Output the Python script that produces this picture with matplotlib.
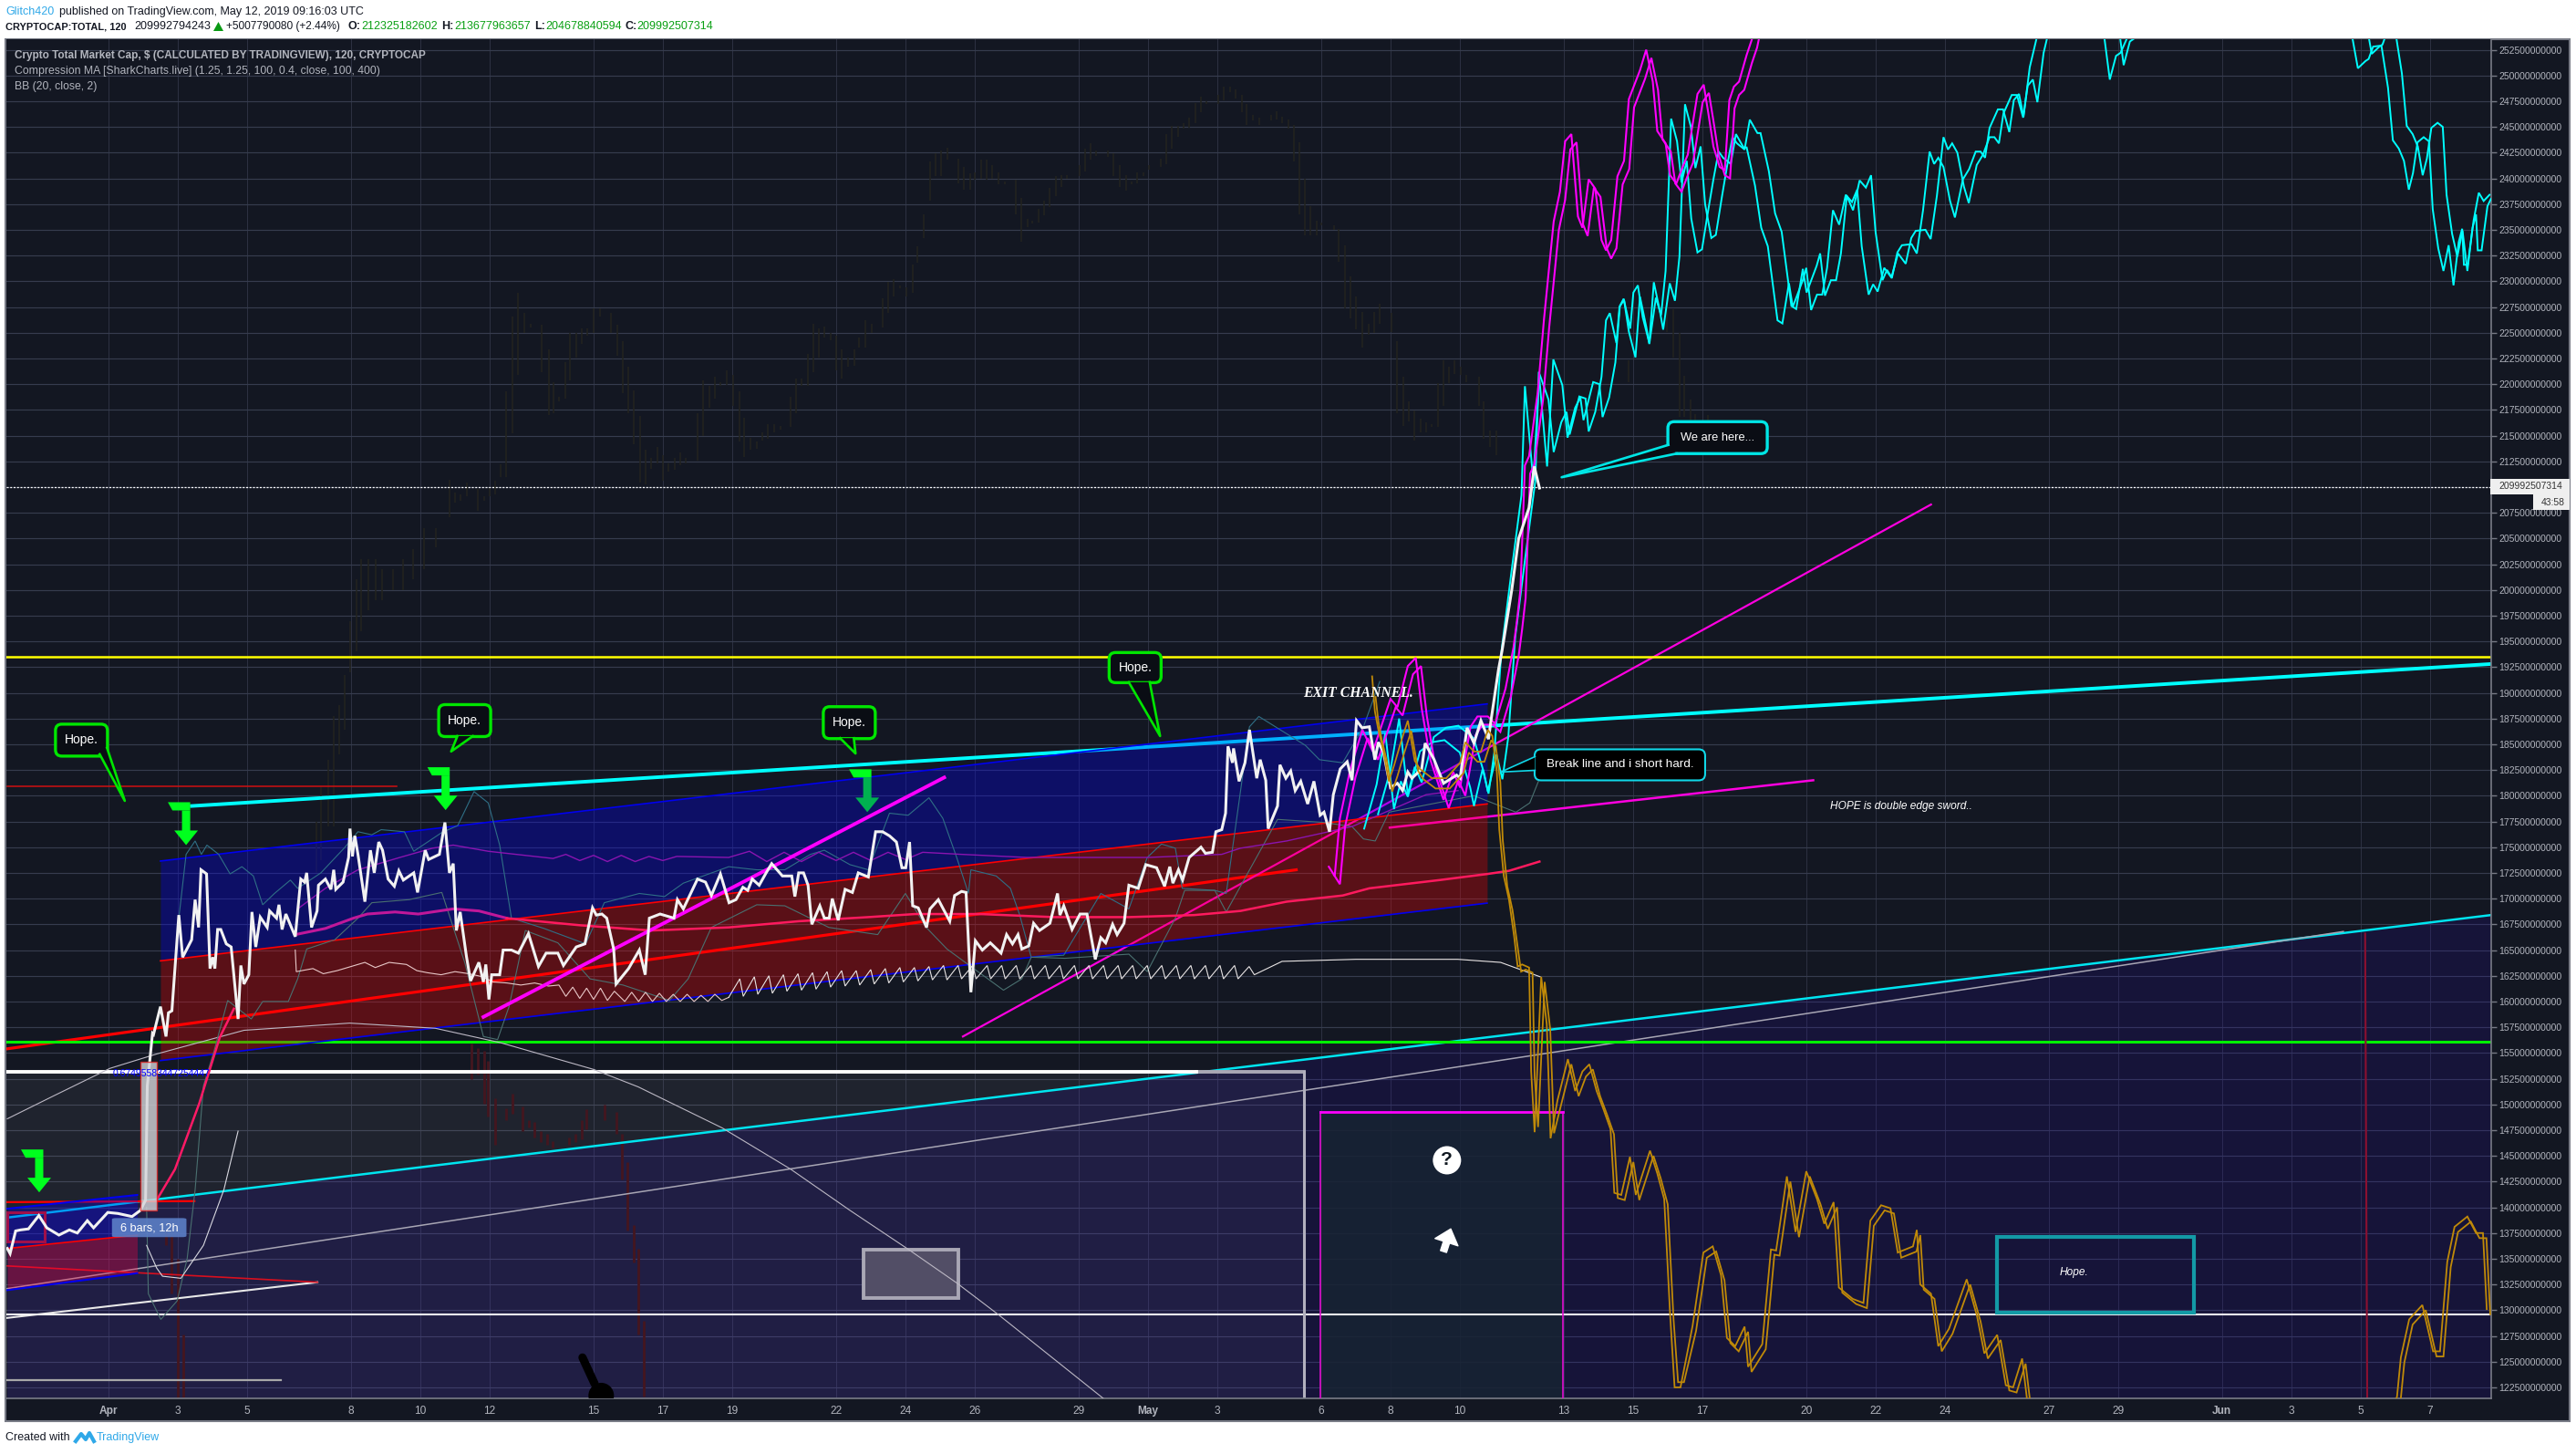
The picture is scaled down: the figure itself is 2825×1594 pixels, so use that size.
"""
plot.py
-------
TradingView style chart of the crypto total market cap with drawings on top.
Days count from 1 April 2019, prices are in billions of dollars.
"""

import numpy as np
import matplotlib
matplotlib.use("Agg")
import matplotlib.pyplot as plt
from matplotlib.patches import FancyBboxPatch, Polygon, Rectangle, Circle
from matplotlib.transforms import IdentityTransform

# ── series (day, price) ──────────────────────────────────────────────────────

white_close = [
    (-2.92, 136.0), (-2.84, 135.5), (-2.68, 137.7), (-2.54, 137.8), (-2.31, 137.9), (-2.01, 139.2), (-1.78, 138.0),
    (-1.43, 137.3), (-1.13, 137.8), (-0.90, 137.5), (-0.61, 138.7), (-0.43, 138.0), (-0.02, 139.5), (0.27, 139.4),
    (0.68, 139.1), (0.92, 139.7), (1.07, 140.7), (1.12, 151.8), (1.27, 156.9), (1.30, 156.8), (1.50, 159.5),
    (1.66, 156.6), (1.73, 158.9), (1.83, 159.1), (2.03, 168.4), (2.14, 164.3), (2.40, 166.0), (2.50, 169.9),
    (2.60, 167.2), (2.67, 172.8), (2.83, 172.4), (2.93, 163.2), (3.01, 164.3), (3.07, 163.2), (3.15, 167.0),
    (3.24, 167.0), (3.40, 165.6), (3.54, 165.3), (3.74, 158.3), (3.82, 163.5), (3.91, 161.7), (4.05, 162.6),
    (4.14, 168.7), (4.25, 165.3), (4.38, 168.2), (4.58, 167.2), (4.65, 168.8), (4.85, 168.1), (4.92, 169.4),
    (5.01, 167.0), (5.12, 168.5), (5.39, 166.3), (5.55, 171.9), (5.66, 171.6), (5.72, 172.5), (5.86, 167.2),
    (6.02, 168.8), (6.06, 171.3), (6.26, 171.9), (6.42, 170.9), (6.50, 172.8), (6.56, 170.9), (6.77, 171.6),
    (6.93, 174.0), (6.97, 176.8), (7.04, 174.1), (7.11, 176.1), (7.20, 174.3), (7.40, 169.7), (7.56, 174.7),
    (7.67, 172.5), (7.80, 175.5), (7.91, 174.7), (8.07, 171.9), (8.25, 171.2), (8.38, 172.7), (8.51, 171.8),
    (8.81, 172.5), (8.92, 170.6), (9.14, 174.7), (9.24, 173.8), (9.55, 174.3), (9.71, 177.4), (9.84, 172.5),
    (9.95, 173.4), (10.04, 166.9), (10.15, 168.7), (10.33, 164.4), (10.45, 162.0), (10.69, 163.8), (10.82, 161.9),
    (10.89, 163.6), (10.98, 160.2), (11.06, 162.6), (11.29, 162.6), (11.39, 165.0), (11.63, 165.0), (11.83, 164.7),
    (12.12, 166.6), (12.41, 163.4), (12.63, 164.7), (12.97, 164.7), (13.13, 163.5), (13.50, 165.3), (13.75, 165.6),
    (13.97, 169.1), (14.08, 168.4), (14.24, 168.5), (14.38, 168.1), (14.58, 165.1), (14.65, 161.7), (15.01, 163.2),
    (15.32, 165.0), (15.49, 162.6), (15.61, 168.1), (15.92, 168.5), (16.32, 168.1), (16.42, 169.9), (16.59, 169.0),
    (17.00, 171.9), (17.23, 171.6), (17.40, 170.3), (17.66, 172.4), (17.91, 169.6), (18.11, 169.9), (18.31, 171.1),
    (18.45, 170.8), (18.58, 171.9), (18.78, 171.3), (18.98, 172.5), (19.14, 173.4), (19.45, 172.2), (19.72, 172.2),
    (19.81, 170.2), (19.92, 172.5), (20.06, 172.5), (20.19, 171.3), (20.30, 167.5), (20.53, 169.3), (20.66, 168.1),
    (20.80, 168.1), (20.89, 170.0), (21.06, 167.9), (21.26, 170.9), (21.47, 170.6), (21.64, 172.5), (21.93, 172.1),
    (22.14, 176.5), (22.34, 176.5), (22.54, 176.1), (22.74, 175.5), (22.90, 173.0), (23.01, 173.0), (23.12, 175.5),
    (23.21, 169.3), (23.37, 169.1), (23.61, 167.2), (23.71, 169.0), (23.95, 169.9), (24.28, 167.8), (24.42, 170.3),
    (24.62, 170.7), (24.75, 170.6), (24.89, 160.9), (25.02, 165.9), (25.22, 165.0), (25.45, 165.7), (25.76, 164.7),
    (25.92, 166.5), (26.09, 165.6), (26.25, 166.5), (26.36, 165.1), (26.56, 165.4), (26.70, 167.6), (26.87, 166.9),
    (27.17, 167.6), (27.39, 170.5), (27.46, 168.4), (27.57, 169.3), (27.81, 167.0), (28.04, 168.5), (28.24, 168.5),
    (28.48, 164.1), (28.64, 166.2), (28.78, 165.7), (28.98, 167.5), (29.11, 166.5), (29.31, 167.6), (29.45, 171.3),
    (29.72, 171.0), (29.94, 173.3), (30.25, 173.0), (30.48, 171.2), (30.63, 173.1), (30.72, 171.5), (30.88, 172.8),
    (31.00, 171.8), (31.19, 174.0), (31.53, 175.0), (31.66, 174.4), (31.86, 174.5), (31.96, 176.5), (32.13, 176.7),
    (32.24, 178.3), (32.31, 184.8), (32.44, 183.2), (32.47, 184.6), (32.63, 181.4), (32.80, 183.2), (32.93, 186.4),
    (33.14, 181.7), (33.24, 183.5), (33.40, 181.5), (33.47, 176.8), (33.74, 179.0), (33.81, 183.0), (33.98, 181.7),
    (34.12, 182.4), (34.25, 180.5), (34.41, 181.4), (34.61, 179.2), (34.79, 181.4), (34.97, 178.1), (35.08, 178.4),
    (35.24, 176.5), (35.35, 180.1), (35.55, 182.6), (35.75, 183.3), (35.89, 181.5), (36.02, 187.3), (36.18, 186.6),
    (36.39, 186.7), (36.55, 183.5), (36.65, 185.2), (36.80, 184.2), (37.00, 180.8), (37.20, 181.2), (37.35, 180.5),
    (37.50, 182.3), (37.62, 181.7), (37.90, 182.6), (38.00, 185.1), (38.26, 183.5), (38.53, 181.2), (38.91, 182.0),
    (39.01, 181.7), (39.21, 186.6), (39.41, 185.1), (39.61, 187.3), (39.83, 185.5), (39.90, 187.3), (40.12, 192.3),
    (40.22, 194.1), (40.50, 200.0), (40.70, 205.0), (41.00, 208.0), (41.15, 212.0), (41.30, 209.9),
]

cyan_near = [
    (36.24, 176.8), (36.60, 181.1), (36.85, 186.1), (37.10, 178.7), (37.30, 181.4), (37.50, 179.9), (37.85, 184.3),
    (38.20, 185.2), (38.56, 185.4), (39.00, 184.2), (39.30, 180.8), (39.41, 179.0), (39.66, 182.6), (39.83, 180.2),
    (40.00, 184.3), (40.20, 194.0), (40.50, 202.0), (40.78, 209.2), (40.88, 219.8), (41.12, 210.6), (41.30, 221.0),
    (41.56, 218.5), (41.71, 213.4), (41.93, 216.3), (42.08, 217.3), (42.17, 215.1), (42.45, 218.8), (42.63, 218.6),
    (42.72, 215.4), (42.91, 217.3), (43.09, 220.7), (43.22, 226.2), (43.33, 226.9), (43.52, 224.0), (43.61, 227.5),
    (43.74, 228.2), (43.88, 225.1), (44.07, 222.6), (44.20, 228.5), (44.38, 225.6), (44.47, 223.9), (44.66, 228.4),
    (44.81, 226.7), (44.94, 231.0), (45.10, 245.8), (45.27, 243.6), (45.40, 239.6), (45.55, 241.7), (45.68, 236.1),
    (45.86, 232.8), (45.99, 233.1), (46.17, 236.9), (46.32, 239.9), (46.47, 242.6), (46.60, 242.0), (46.82, 241.4),
    (46.97, 244.3), (47.19, 243.0), (47.28, 243.0), (47.52, 239.3), (47.70, 235.2), (47.89, 233.4), (48.17, 226.2),
    (48.31, 225.9), (48.50, 229.8), (48.61, 227.5), (48.90, 230.1), (49.00, 231.3), (49.14, 227.2), (49.31, 228.7),
    (49.46, 228.7), (49.60, 231.3), (49.77, 236.9), (49.95, 235.5), (50.14, 238.4), (50.32, 237.7), (50.47, 238.9),
    (50.60, 233.4), (50.80, 228.7), (50.93, 229.7), (51.06, 229.0), (51.25, 231.3), (51.47, 230.3), (51.63, 232.8),
    (51.76, 233.5), (52.04, 233.6), (52.19, 232.7), (52.37, 236.9), (52.56, 242.6), (52.69, 241.4), (52.81, 242.0),
    (52.96, 241.1), (53.15, 237.8), (53.29, 236.2), (53.52, 239.9), (53.70, 240.9), (53.89, 242.6), (54.03, 242.6),
    (54.16, 242.0), (54.29, 244.9), (54.53, 246.7), (54.68, 246.7), (54.86, 244.5), (54.99, 247.6), (55.14, 248.2),
    (55.27, 246.0), (55.45, 250.8), (55.64, 253.5), (56.00, 257.6), (57.10, 257.6), (57.61, 253.5), (57.76, 249.6),
    (57.94, 251.9), (58.07, 252.2), (58.40, 254.7), (58.80, 257.6), (64.40, 257.6), (64.77, 253.5), (64.92, 250.7),
    (65.14, 251.4), (65.23, 251.6), (65.36, 252.8), (65.60, 252.9), (65.79, 248.8), (65.93, 243.7), (66.10, 242.9),
    (66.25, 241.7), (66.39, 238.9), (66.51, 240.5), (66.64, 243.5), (66.82, 244.0), (66.97, 243.6), (67.08, 237.0),
    (67.24, 233.2), (67.39, 231.0), (67.54, 233.5), (67.68, 229.6), (67.83, 233.8), (67.93, 235.1), (67.98, 231.6),
    (68.09, 231.6), (68.26, 235.9), (68.41, 238.6), (68.55, 237.8), (68.72, 238.4),
]

cyan_far = [
    (36.64, 178.2), (37.00, 182.5), (37.25, 187.5), (37.50, 180.1), (37.70, 182.8), (37.90, 181.3), (38.25, 185.7),
    (38.60, 186.6), (38.96, 186.8), (39.40, 185.6), (39.70, 182.2), (39.81, 180.4), (40.06, 184.0), (40.23, 181.6),
    (40.40, 185.7), (40.60, 195.4), (40.90, 203.4), (41.18, 210.6), (41.28, 221.2), (41.52, 212.0), (41.70, 222.4),
    (41.96, 219.9), (42.11, 214.8), (42.33, 217.7), (42.48, 218.7), (42.57, 216.5), (42.85, 220.2), (43.03, 220.0),
    (43.12, 216.8), (43.31, 218.7), (43.49, 222.1), (43.62, 227.6), (43.73, 228.3), (43.92, 225.4), (44.01, 228.9),
    (44.14, 229.6), (44.28, 226.5), (44.47, 224.0), (44.60, 229.9), (44.78, 227.0), (44.87, 225.3), (45.06, 229.8),
    (45.21, 228.1), (45.34, 232.4), (45.50, 247.2), (45.67, 245.0), (45.80, 241.0), (45.95, 243.1), (46.08, 237.5),
    (46.26, 234.2), (46.39, 234.5), (46.57, 238.3), (46.72, 241.3), (46.87, 244.0), (47.00, 243.4), (47.22, 242.8),
    (47.37, 245.7), (47.59, 244.4), (47.68, 244.4), (47.92, 240.7), (48.10, 236.6), (48.29, 234.8), (48.57, 227.6),
    (48.71, 227.3), (48.90, 231.2), (49.01, 228.9), (49.30, 231.5), (49.40, 232.7), (49.54, 228.6), (49.71, 230.1),
    (49.86, 230.1), (50.00, 232.7), (50.17, 238.3), (50.35, 236.9), (50.54, 239.8), (50.72, 239.1), (50.87, 240.3),
    (51.00, 234.8), (51.20, 230.1), (51.33, 231.1), (51.46, 230.4), (51.65, 232.7), (51.87, 231.7), (52.03, 234.2),
    (52.16, 234.9), (52.44, 235.0), (52.59, 234.1), (52.77, 238.3), (52.96, 244.0), (53.09, 242.8), (53.21, 243.4),
    (53.36, 242.5), (53.55, 239.2), (53.69, 237.6), (53.92, 241.3), (54.10, 242.3), (54.29, 244.0), (54.43, 244.0),
    (54.56, 243.4), (54.69, 246.3), (54.93, 248.1), (55.08, 248.1), (55.26, 245.9), (55.39, 249.0), (55.54, 249.6),
    (55.67, 247.4), (55.85, 252.2), (56.04, 254.9), (56.40, 259.0), (57.50, 259.0), (58.01, 254.9), (58.16, 251.0),
    (58.34, 253.3), (58.47, 253.6), (58.80, 256.1), (59.20, 259.0), (64.80, 259.0), (65.17, 254.9), (65.32, 252.1),
    (65.54, 252.8), (65.63, 253.0), (65.76, 254.2), (66.00, 254.3), (66.19, 250.2), (66.33, 245.1), (66.50, 244.3),
    (66.65, 243.1), (66.79, 240.3), (66.91, 241.9), (67.04, 244.9), (67.22, 245.4), (67.37, 245.0), (67.48, 238.4),
    (67.64, 234.6), (67.79, 232.4), (67.94, 234.9), (68.08, 231.0), (68.23, 235.2), (68.33, 236.5), (68.38, 233.0),
    (68.49, 233.0), (68.66, 237.3), (68.76, 238.0),
]

magenta_near = [
    (35.22, 173.1), (35.39, 172.2), (35.54, 177.8), (35.84, 182.6), (36.19, 186.4), (36.49, 184.3), (36.70, 186.4),
    (37.00, 189.4), (37.20, 188.6), (37.50, 192.6), (37.73, 193.4), (37.90, 188.5), (38.15, 183.5), (38.53, 179.6),
    (38.81, 182.3), (39.01, 180.8), (39.31, 186.7), (39.51, 187.7), (39.81, 187.7), (40.02, 187.0), (40.32, 190.4),
    (40.55, 194.4), (40.65, 197.0), (40.75, 200.0), (40.88, 212.1), (41.00, 213.0), (41.25, 219.2), (41.43, 226.3),
    (41.71, 235.8), (41.89, 238.7), (42.04, 243.6), (42.22, 244.3), (42.41, 236.3), (42.54, 235.2), (42.72, 239.9),
    (42.91, 239.0), (43.09, 234.0), (43.22, 233.0), (43.37, 234.0), (43.55, 240.2), (43.74, 241.7), (43.88, 247.7),
    (44.20, 250.5), (44.38, 252.5), (44.57, 249.4), (44.70, 244.6), (44.94, 243.4), (45.07, 240.3), (45.25, 239.5),
    (45.43, 241.1), (45.58, 242.3), (45.86, 248.2), (46.04, 249.1), (46.17, 246.4), (46.32, 243.1), (46.50, 241.1),
    (46.65, 240.8), (46.78, 247.6), (46.91, 248.9), (47.06, 249.4), (47.28, 252.0), (47.43, 253.5), (47.61, 256.4),
]

magenta_far = [
    (35.37, 172.3), (35.54, 171.4), (35.69, 177.0), (35.99, 181.8), (36.34, 185.6), (36.64, 183.5), (36.85, 185.6),
    (37.15, 188.6), (37.35, 187.8), (37.65, 191.8), (37.88, 192.6), (38.05, 187.7), (38.30, 182.7), (38.68, 178.8),
    (38.96, 181.5), (39.16, 180.0), (39.46, 185.9), (39.66, 186.9), (39.96, 186.9), (40.17, 186.2), (40.47, 189.6),
    (40.70, 193.6), (40.80, 196.2), (40.90, 199.2), (41.03, 211.3), (41.15, 212.2), (41.40, 218.4), (41.58, 225.5),
    (41.86, 235.0), (42.04, 237.9), (42.19, 242.8), (42.37, 243.5), (42.56, 235.5), (42.69, 234.4), (42.87, 239.1),
    (43.06, 238.2), (43.24, 233.2), (43.37, 232.2), (43.52, 233.2), (43.70, 239.4), (43.89, 240.9), (44.03, 246.9),
    (44.35, 249.7), (44.53, 251.7), (44.72, 248.6), (44.85, 243.8), (45.09, 242.6), (45.22, 239.5), (45.40, 238.7),
    (45.58, 240.3), (45.73, 241.5), (46.01, 247.4), (46.19, 248.3), (46.32, 245.6), (46.47, 242.3), (46.65, 240.3),
    (46.80, 240.0), (46.93, 246.8), (47.06, 248.1), (47.21, 248.6), (47.43, 251.2), (47.58, 252.7), (47.76, 255.6),
]

gold_near = [
    (36.47, 191.6), (36.55, 188.2), (36.65, 186.4), (36.80, 184.3), (36.95, 181.4), (37.10, 182.9), (37.30, 185.2),
    (37.50, 187.3), (37.70, 183.4), (37.85, 182.6), (38.20, 181.7), (38.61, 181.7), (39.01, 183.2), (39.16, 185.2),
    (39.41, 184.3), (39.61, 184.3), (39.81, 186.4), (39.94, 185.8), (40.07, 182.3), (40.14, 176.7), (40.27, 172.2),
    (40.42, 169.9), (40.57, 166.3), (40.67, 163.4), (40.80, 163.6), (41.00, 163.3), (41.06, 153.2), (41.16, 147.3),
    (41.35, 162.4), (41.51, 157.8), (41.62, 146.7), (41.82, 150.4), (42.12, 154.4), (42.33, 151.3), (42.54, 153.2),
    (42.74, 153.9), (42.95, 151.3), (43.15, 149.5), (43.35, 147.6), (43.46, 141.4), (43.66, 141.2), (43.91, 144.9),
    (44.08, 141.2), (44.49, 145.5), (44.70, 143.3), (44.90, 140.8), (45.07, 129.6), (45.20, 122.5), (45.37, 122.5),
    (45.72, 128.5), (46.03, 135.6), (46.30, 136.2), (46.54, 133.4), (46.71, 127.3), (46.95, 126.5), (47.22, 128.4),
    (47.32, 124.5), (47.73, 126.7), (47.98, 135.9), (48.13, 135.8), (48.44, 143.0), (48.69, 137.6), (49.00, 143.5),
    (49.31, 140.8), (49.52, 138.4), (49.79, 140.5), (49.94, 132.2), (50.34, 131.1), (50.65, 130.7), (50.85, 138.7),
    (51.16, 140.2), (51.43, 139.9), (51.64, 135.6), (52.08, 136.2), (52.19, 137.8), (52.29, 132.5), (52.60, 131.6),
    (52.81, 126.5), (53.12, 128.2), (53.63, 133.0), (53.93, 129.4), (54.14, 125.8), (54.51, 127.6), (54.76, 122.7),
    (54.97, 122.5), (55.23, 125.3), (55.38, 121.1), (55.79, 118.0), (65.65, 118.0), (66.05, 121.6), (66.16, 125.4),
    (66.40, 129.1), (66.78, 130.5), (67.09, 126.0), (67.29, 126.0), (67.50, 134.7), (67.71, 138.1), (68.08, 139.1),
    (68.33, 137.5), (68.53, 137.5), (68.64, 130.1),
]

gold_far = [
    (36.57, 189.6), (36.65, 187.2), (36.75, 185.4), (36.90, 183.3), (37.05, 180.4), (37.20, 181.9), (37.40, 184.2),
    (37.60, 186.3), (37.80, 182.4), (37.95, 181.6), (38.30, 180.7), (38.71, 180.7), (39.11, 182.2), (39.26, 184.2),
    (39.51, 183.3), (39.71, 183.3), (39.91, 185.4), (40.04, 184.8), (40.17, 181.3), (40.24, 175.7), (40.37, 171.2),
    (40.52, 168.9), (40.67, 165.3), (40.77, 162.9), (40.90, 163.1), (41.10, 162.8), (41.16, 152.7), (41.26, 147.8),
    (41.45, 161.9), (41.61, 157.3), (41.72, 147.2), (41.92, 149.9), (42.22, 153.9), (42.43, 150.8), (42.64, 152.7),
    (42.84, 153.4), (43.05, 150.8), (43.25, 149.0), (43.45, 147.1), (43.56, 140.9), (43.76, 140.7), (44.01, 144.4),
    (44.18, 140.7), (44.59, 145.0), (44.80, 142.8), (45.00, 140.3), (45.17, 129.1), (45.30, 123.0), (45.47, 123.0),
    (45.82, 128.0), (46.13, 135.1), (46.40, 135.7), (46.64, 132.9), (46.81, 126.8), (47.05, 126.0), (47.32, 127.9),
    (47.42, 124.0), (47.83, 126.2), (48.08, 135.4), (48.23, 135.3), (48.54, 142.5), (48.79, 137.1), (49.10, 143.0),
    (49.41, 140.3), (49.62, 137.9), (49.89, 140.0), (50.04, 131.7), (50.44, 130.6), (50.75, 130.2), (50.95, 138.2),
    (51.26, 139.7), (51.53, 139.4), (51.74, 135.1), (52.18, 135.7), (52.29, 137.3), (52.39, 132.0), (52.70, 131.1),
    (52.91, 126.0), (53.22, 127.7), (53.73, 132.5), (54.03, 128.9), (54.24, 125.3), (54.61, 127.1), (54.86, 122.2),
    (55.07, 122.0), (55.33, 124.8), (55.48, 120.6), (55.89, 117.5), (65.75, 117.5), (66.15, 121.1), (66.26, 124.9),
    (66.50, 128.6), (66.88, 130.0), (67.19, 125.5), (67.39, 125.5), (67.60, 134.2), (67.81, 137.6), (68.18, 138.6),
    (68.43, 137.0), (68.63, 137.0), (68.74, 129.6),
]

bb_upper = [
    (2.03, 168.1), (2.24, 174.3), (2.50, 175.6), (2.68, 174.3), (2.84, 175.2), (3.18, 174.3), (3.51, 172.4),
    (3.85, 173.1), (4.18, 172.2), (4.45, 169.4), (4.79, 170.5), (5.25, 171.8), (5.46, 171.0), (6.13, 172.5),
    (6.80, 174.9), (7.20, 176.5), (7.60, 176.2), (7.87, 176.7), (8.54, 176.5), (8.81, 174.6), (9.61, 176.4),
    (10.08, 177.1), (10.55, 180.4), (10.96, 179.3), (11.29, 175.2), (11.63, 168.1), (12.57, 167.1), (13.77, 165.6),
    (14.31, 169.6), (15.32, 170.5), (16.05, 170.2), (16.59, 171.5), (17.90, 173.1), (18.71, 172.8), (19.52, 172.8),
    (20.26, 174.3), (20.66, 174.7), (21.40, 173.3), (21.93, 172.8), (22.54, 178.3), (23.08, 178.1), (23.68, 179.8),
    (24.08, 177.8), (24.48, 174.0), (24.82, 170.5), (24.89, 172.8), (25.62, 172.2), (26.03, 171.0), (26.30, 168.4),
    (26.63, 164.3), (27.57, 164.5), (28.64, 170.5), (29.45, 169.0), (29.98, 174.0), (30.39, 175.3), (30.79, 174.9),
    (30.99, 171.0), (31.93, 170.8), (32.26, 170.5), (32.93, 186.7), (33.20, 187.7), (33.87, 186.3), (34.54, 184.9),
    (34.95, 183.5), (35.62, 183.2), (36.22, 186.7), (36.69, 191.1),
]

bb_lower = [
    (1.10, 140.0), (1.15, 131.6), (1.51, 129.1), (1.98, 130.9), (2.27, 135.0), (2.50, 141.7), (2.74, 151.8),
    (3.04, 155.1), (3.44, 160.1), (4.12, 158.3), (4.45, 160.0), (5.19, 160.0), (5.46, 162.2), (5.72, 165.1),
    (6.53, 166.0), (7.20, 168.1), (7.60, 169.6), (8.68, 169.9), (9.62, 170.6), (10.29, 163.7), (10.82, 156.6),
    (11.23, 156.3), (11.56, 159.5), (12.03, 166.9), (12.97, 165.7), (13.90, 162.2), (14.85, 161.6), (16.19, 160.1),
    (16.73, 162.2), (17.40, 167.2), (18.71, 169.4), (19.52, 169.3), (20.79, 167.2), (22.20, 166.5), (23.00, 170.5),
    (23.60, 167.2), (24.20, 165.1), (24.89, 163.4), (25.83, 161.1), (26.36, 162.2), (26.63, 164.3), (27.60, 164.2),
    (29.45, 164.6), (29.98, 162.9), (30.79, 168.1), (31.06, 170.8), (31.93, 170.8), (32.26, 168.7), (33.74, 177.7),
    (35.08, 177.4), (35.89, 177.0), (36.22, 175.8), (36.56, 175.6), (36.96, 178.4), (39.41, 180.0), (40.62, 178.4),
    (41.02, 179.3), (41.27, 181.4),
]

ma_rising = [(1.39, 140.7), (1.92, 143.7), (2.62, 150.1), (3.21, 156.5), (3.62, 159.3)]

ma_slow_a = [
    (5.39, 166.5), (6.26, 167.1), (7.07, 168.1), (7.47, 168.5), (8.27, 168.7), (8.94, 168.5), (9.95, 169.0),
    (10.69, 168.8), (11.49, 168.1),
]
ma_slow_b = [
    (11.49, 168.1), (12.70, 167.7), (13.64, 167.4), (14.85, 167.1), (15.65, 166.9), (17.90, 167.2), (19.92, 167.8),
    (21.93, 168.2), (23.28, 168.5), (25.15, 168.5), (27.30, 168.2), (29.45, 168.2), (31.33, 168.4), (32.67, 168.8),
    (34.00, 169.7), (35.62, 170.3), (36.39, 171.0), (38.41, 171.8), (39.81, 172.4), (40.42, 172.7), (41.30, 173.6),
]
ma_purple = [
    (5.46, 169.0), (6.26, 171.0), (7.20, 172.8), (8.41, 174.0), (9.35, 174.9), (9.95, 175.2), (10.96, 174.6),
    (12.83, 173.9), (13.20, 174.3), (13.60, 173.7), (14.00, 174.2), (14.40, 173.6), (14.80, 174.2), (15.20, 173.6),
    (15.60, 174.1), (16.00, 173.7), (16.40, 174.1), (17.90, 174.0), (18.50, 174.6), (19.00, 173.6), (19.50, 174.5),
    (20.00, 173.6), (20.50, 174.5), (21.00, 173.7), (21.50, 174.5), (22.00, 173.7), (22.50, 174.5), (23.00, 173.8),
    (23.50, 174.5), (24.62, 174.3), (26.50, 174.0), (30.00, 174.0), (32.13, 174.3), (32.67, 174.9), (34.00, 175.6),
    (35.89, 177.0), (38.03, 180.1), (38.95, 180.5),
]

zigzag_left = [
    (5.39, 165.0), (5.42, 162.9), (5.90, 163.2), (6.20, 162.7), (6.60, 163.0), (7.00, 163.4), (7.40, 163.8),
    (7.70, 163.3), (8.10, 163.8), (8.60, 163.6), (8.90, 163.0), (9.20, 162.8), (9.60, 162.6), (10.00, 162.9),
    (10.40, 162.7), (10.80, 162.4), (11.10, 161.9), (11.50, 161.8), (11.90, 161.6), (12.30, 161.8), (12.70, 161.5),
    (13.00, 161.6), (13.20, 160.5), (13.40, 161.4), (13.60, 160.3), (13.80, 161.3), (14.00, 160.2), (14.20, 161.3),
    (14.40, 160.1), (14.60, 161.0), (14.90, 160.0), (15.10, 160.9), (15.30, 160.0), (15.50, 160.9), (15.70, 160.0),
    (15.90, 160.8), (16.10, 160.0), (16.30, 160.7), (16.50, 160.0), (16.70, 160.7), (16.90, 160.0), (17.10, 160.6),
    (17.30, 160.0), (17.50, 160.7), (17.70, 160.1), (17.90, 160.4),
]
zigzag_right = [
    (17.90, 160.4), (18.22, 162.2), (18.32, 160.5), (18.64, 162.4), (18.74, 160.7), (19.06, 162.5), (19.16, 160.8),
    (19.48, 162.6), (19.58, 161.0), (19.90, 162.7), (20.00, 161.1), (20.32, 162.8), (20.42, 161.2), (20.74, 162.9),
    (20.84, 161.4), (21.16, 163.0), (21.26, 161.5), (21.58, 163.0), (21.68, 161.6), (22.00, 163.1), (22.10, 161.7),
    (22.42, 163.2), (22.52, 161.8), (22.84, 163.3), (22.94, 161.9), (23.26, 163.3), (23.36, 162.0), (23.68, 163.4),
    (23.78, 162.1), (24.10, 163.5), (24.20, 162.1), (24.52, 163.5), (24.62, 162.2), (24.94, 163.5), (25.04, 162.2),
    (25.36, 163.5), (25.46, 162.2), (25.78, 163.5), (25.88, 162.2), (26.20, 163.5), (26.30, 162.2), (26.62, 163.5),
    (26.72, 162.2), (27.04, 163.5), (27.14, 162.2), (27.46, 163.5), (27.56, 162.2), (27.88, 163.5), (27.98, 162.2),
    (28.30, 163.5), (28.40, 162.2), (28.72, 163.5), (28.82, 162.2), (29.14, 163.5), (29.24, 162.2), (29.56, 163.5),
    (29.66, 162.2), (29.98, 163.5), (30.08, 162.2), (30.40, 163.5), (30.50, 162.2), (30.82, 163.5), (30.92, 162.2),
    (31.24, 163.5), (31.34, 162.2), (31.66, 163.5), (31.76, 162.2), (32.08, 163.5), (32.18, 162.2), (32.50, 163.5),
    (32.60, 162.2), (32.92, 163.4), (33.07, 162.6), (33.87, 163.9), (36.00, 164.1), (38.94, 164.1), (40.18, 163.8),
    (41.32, 162.4),
]

arc = [
    (-2.92, 148.6), (-1.60, 150.8), (0.04, 153.5), (1.39, 154.9), (3.91, 157.2), (6.96, 157.9), (9.43, 157.4),
    (11.31, 156.0), (14.00, 153.4), (15.29, 151.7), (17.72, 147.7), (19.69, 143.7), (21.40, 139.7), (23.09, 135.9),
    (24.48, 132.65), (25.69, 129.55), (28.71, 121.43),
]
bb_tail = [(1.10, 136.3), (1.39, 134.1), (1.56, 133.3), (2.09, 133.1), (2.74, 136.3), (3.33, 141.7), (3.74, 147.4)]

# faint candles (day, low, high)
ghost_candles = [
    (6.00, 172.5, 177.5), (6.13, 173.7, 180.8), (6.33, 177.0, 183.5), (6.50, 177.0, 187.7), (6.66, 184.0, 188.8),
    (6.82, 186.4, 191.7), (6.98, 192.0, 197.0), (7.15, 194.0, 201.0), (7.30, 196.0, 203.0), (7.50, 198.0, 203.0),
    (7.70, 199.0, 203.0), (7.90, 199.0, 202.0), (8.20, 200.0, 202.0), (8.50, 200.0, 203.0), (8.80, 201.0, 204.0),
    (9.10, 202.0, 206.0), (9.46, 204.1, 206.0), (9.84, 207.1, 210.7), (10.01, 208.5, 209.5), (10.16, 208.7, 209.3),
    (10.34, 209.1, 210.4), (10.67, 207.7, 209.8), (10.84, 208.7, 209.1), (10.99, 209.1, 209.9), (11.17, 209.3, 210.6),
    (11.32, 211.0, 212.2), (11.47, 211.0, 219.3), (11.65, 215.2, 226.6), (11.82, 220.9, 228.9), (12.00, 225.0, 226.9),
    (12.19, 225.5, 225.9), (12.50, 221.2, 225.8), (12.70, 217.0, 223.4), (12.85, 217.2, 220.2), (13.00, 218.3, 218.8),
    (13.18, 218.6, 222.1), (13.33, 220.4, 225.0), (13.50, 222.6, 225.0), (13.66, 223.9, 225.4), (13.83, 224.7, 225.4),
    (14.00, 225.0, 227.4), (14.18, 226.6, 227.4), (14.51, 225.0, 226.9), (14.68, 222.8, 225.8), (14.84, 219.1, 224.2),
    (14.99, 217.2, 221.7), (15.16, 214.2, 219.4), (15.34, 210.4, 216.9), (15.49, 210.3, 213.6), (15.67, 211.8, 212.8),
    (15.84, 212.3, 213.9), (15.99, 210.6, 213.1), (16.17, 211.5, 212.3), (16.34, 211.7, 212.8), (16.49, 212.1, 213.4),
    (16.67, 212.3, 212.8), (17.00, 212.6, 217.2), (17.17, 215.0, 220.4), (17.35, 217.7, 219.8), (17.50, 218.6, 220.7),
    (17.67, 219.8, 220.2), (17.85, 219.9, 221.3), (18.02, 217.9, 220.9), (18.20, 214.4, 219.3), (18.35, 212.9, 216.7),
    (18.52, 213.6, 214.8), (18.70, 213.7, 214.4), (18.87, 214.5, 215.3), (19.03, 214.7, 216.1), (19.20, 215.3, 216.1),
    (19.40, 215.6, 215.9), (19.68, 215.8, 218.8), (19.84, 217.2, 220.5), (20.01, 219.8, 220.5), (20.18, 219.8, 222.9),
    (20.34, 221.2, 225.9), (20.51, 222.6, 225.4), (20.67, 224.5, 225.6), (20.84, 224.3, 225.0), (21.01, 221.3, 224.7),
    (21.17, 220.5, 223.4), (21.34, 221.7, 222.6), (21.52, 221.8, 223.4), (21.67, 223.6, 224.5), (21.84, 223.6, 226.2),
    (22.02, 225.0, 225.9), (22.35, 225.5, 228.3), (22.50, 226.9, 229.9), (22.67, 228.5, 230.2), (22.85, 229.3, 229.6),
    (23.02, 228.5, 229.4), (23.20, 228.9, 231.6), (23.35, 231.8, 233.4), (23.52, 234.2, 236.5), (23.70, 237.8, 241.6),
    (23.87, 240.2, 242.4), (24.03, 240.2, 242.7), (24.20, 241.8, 243.0), (24.53, 239.5, 241.9), (24.68, 238.9, 241.1),
    (24.86, 238.9, 240.5), (25.01, 239.9, 240.6), (25.18, 240.0, 241.8), (25.34, 239.9, 241.8), (25.51, 240.0, 241.3),
    (25.69, 239.4, 240.6), (25.86, 239.4, 239.7), (26.19, 236.5, 239.9), (26.34, 233.8, 238.1), (26.52, 235.3, 236.1),
    (26.67, 235.6, 235.9), (26.84, 235.7, 237.0), (27.00, 236.4, 237.8), (27.17, 237.2, 239.1), (27.35, 238.3, 240.2),
    (27.50, 239.2, 240.3), (27.67, 240.0, 240.3), (28.02, 240.2, 241.3), (28.18, 240.7, 242.9), (28.35, 241.8, 243.4),
    (28.50, 242.2, 242.7), (28.85, 242.1, 242.7), (29.01, 240.2, 242.4), (29.18, 239.2, 241.3), (29.36, 238.8, 240.3),
    (29.53, 239.4, 239.7), (29.68, 239.5, 240.6), (29.86, 240.2, 240.6), (30.03, 240.8, 241.3), (30.36, 241.1, 241.9),
    (30.53, 241.4, 244.3), (30.69, 242.9, 245.1), (30.86, 244.0, 245.1), (31.04, 244.8, 245.4), (31.19, 244.9, 245.9),
    (31.36, 245.4, 247.3), (31.52, 246.4, 247.9), (31.69, 247.2, 247.5), (32.02, 247.2, 248.1), (32.19, 247.6, 248.9),
    (32.37, 248.4, 248.9), (32.52, 247.8, 248.6), (32.70, 246.4, 248.1), (32.85, 245.2, 247.2), (33.02, 245.6, 246.2),
    (33.20, 245.2, 245.9), (33.55, 245.6, 246.2), (33.70, 245.7, 246.5), (33.87, 245.4, 246.0), (34.05, 244.8, 245.7),
    (34.22, 241.6, 245.2), (34.38, 236.5, 243.5), (34.53, 234.5, 240.0), (34.68, 234.5, 237.3), (34.86, 234.5, 235.9),
    (35.01, 235.4, 235.7), (35.36, 235.0, 235.4), (35.51, 231.9, 235.1), (35.69, 227.4, 233.5), (35.84, 226.4, 230.5),
    (36.01, 225.3, 228.5), (36.19, 223.6, 227.0), (36.36, 224.8, 225.9), (36.52, 225.0, 227.0), (36.69, 225.9, 227.8),
    (37.04, 225.1, 226.9), (37.19, 217.2, 224.2), (37.37, 215.9, 220.7), (37.54, 216.4, 218.3), (37.70, 214.5, 217.4),
    (37.87, 215.3, 216.6), (38.02, 215.3, 216.3), (38.20, 215.8, 216.1), (38.37, 215.8, 220.1), (38.53, 217.9, 222.3),
    (38.70, 220.1, 221.7), (38.85, 221.0, 222.3), (39.03, 220.9, 221.7), (39.20, 220.2, 220.9), (39.55, 217.9, 220.7),
    (39.70, 214.7, 218.3), (39.88, 213.9, 215.5), (40.05, 213.1, 215.5), (43.86, 220.2, 222.3), (44.97, 225.1, 228.5),
    (45.15, 222.6, 227.3), (45.34, 216.8, 225.0), (45.47, 216.8, 220.8), (45.65, 215.7, 218.5), (45.80, 215.7, 217.1),
    (46.17, 216.5, 217.0),
]
ghost_red = [
    (10.48, 152.5, 155.9), (10.66, 152.9, 155.5), (10.84, 150.1, 155.2), (10.95, 148.8, 154.2), (11.15, 146.1, 150.6),
    (11.48, 148.5, 149.6), (11.66, 149.1, 151.0), (11.95, 147.4, 149.8), (12.13, 147.8, 148.5), (12.30, 146.8, 148.3),
    (12.48, 146.3, 147.4), (12.66, 146.1, 147.1), (12.83, 145.8, 146.4), (13.30, 146.1, 146.8), (13.48, 146.3, 147.1),
    (13.65, 146.6, 148.5), (13.80, 147.6, 149.5), (14.32, 148.5, 150.0), (14.65, 147.1, 149.3), (14.83, 142.7, 147.1),
    (14.98, 137.7, 144.4), (15.16, 134.6, 138.3), (15.30, 127.6, 136.0), (15.45, 121.6, 129.0), (2.00, 121.5, 135.0),
    (2.17, 121.5, 127.6), (1.66, 136.3, 137.7), (1.82, 131.6, 137.3),
]

# ── drawings ─────────────────────────────────────────────────────────────────

channel_days = [1.50, 39.79]
channel_top = [173.65, 188.92]
channel_mid = [163.95, 179.20]
channel_low = [154.26, 169.56]
mini_days = [-2.92, 0.83]
mini_top = [139.86, 141.20]
mini_mid = [136.00, 137.30]
mini_low = [131.95, 133.60]

lines_thin = {
    # (days), (prices), colour, width in points
    "red_centre": ([-2.93, 34.28], [155.4, 172.8], "#ff0000", 2.3),
    "red_level": ([-2.93, 8.31], [180.94, 180.94], "#d01010", 1.1),
    "cyan_top": ([2.40, 68.76], [179.0, 192.8], "#00ffff", 2.8),
    "cyan_low": ([-2.92, 68.76], [139.0, 168.4], "#00e5f0", 1.8),
    "gray_low": ([-2.92, 64.5], [132.1, 166.8], "#a8a6b4", 1.1),
    "white_wedge": ([-2.92, 6.03], [129.25, 132.72], "#e8e8e8", 1.5),
    "red_wedge": ([-2.92, 6.03], [134.3, 132.72], "#d80f1e", 1.2),
    "red_short": ([-2.92, 2.48], [140.5, 140.6], "#ff0000", 1.6),
    "gray_base": ([-2.92, 4.97], [123.2, 123.2], "#a8a8a8", 1.6),
    "magenta_a": ([10.82, 24.12], [158.5, 181.77], "#ff00ff", 2.8),
    "magenta_b": ([24.66, 52.60], [156.6, 208.3], "#ff00e0", 1.6),
    "magenta_c": ([36.98, 49.20], [176.9, 181.5], "#ff00e0", 1.8),
    "yellow": ([-2.95, 68.76], [193.47, 193.47], "#ffff00", 1.8),
    "green": ([-2.95, 68.76], [156.12, 156.12], "#00f000", 2.2),
    "white_low": ([-2.95, 68.76], [129.55, 129.55], "#f4f4f4", 1.5),
    "gray_top": ([31.40, 34.49], [153.2, 153.2], "#a9a7b5", 2.8),
    "white_top": ([-2.95, 31.40], [153.2, 153.2], "#ffffff", 2.8),
    "rect_side": ([34.49, 34.49], [153.2, 121.43], "#b2b0be", 2.2),
    "red_vertical": ([65.13, 65.19], [166.6, 121.43], "#8b1030", 1.5),
}

price_ticks = [122.5 + 2.5 * i for i in range(53)]
time_ticks = [0, 2, 4, 7, 9, 11, 14, 16, 18, 21, 23, 25, 28, 30, 32, 35, 37, 39, 42, 44, 46, 49, 51, 53, 56, 58, 61,
              63, 65, 67]
time_labels = ["Apr", "3", "5", "8", "10", "12", "15", "17", "19", "22", "24", "26", "29", "May", "3", "6", "8", "10",
               "13", "15", "17", "20", "22", "24", "27", "29", "Jun", "3", "5", "7"]

last_price = 209.9925
FONT = "Liberation Sans"
W, H = 2825, 1594
CLR_BG = "#131722"
CLR_GRID = "#363c4e"
CLR_GRID_V = "#2c3041"
CLR_AXIS = "#787b86"
CLR_TEXT = "#b2b5be"

plt.rcParams["font.family"] = [FONT, "DejaVu Sans"]

fig = plt.figure(figsize=(W / 100, H / 100), dpi=100, facecolor="white")

# outer panel with the price and time scales
fig.add_artist(Rectangle((6, H - 1558), 2812, 1515, transform=IdentityTransform(), fc=CLR_BG, ec=CLR_AXIS, lw=1.5,
                         zorder=-1))
ax = fig.add_axes([7 / W, (H - 1533) / H, 2724.7 / W, 1490 / H], facecolor=CLR_BG)
ax.set_xlim(-2.947, 68.76)
ax.set_ylim(121.43, 253.52)

for side in ("top", "left"):
    ax.spines[side].set_visible(False)
for side in ("bottom", "right"):
    ax.spines[side].set_color(CLR_AXIS)
    ax.spines[side].set_linewidth(1.2)

ax.yaxis.tick_right()
ax.set_yticks(price_ticks)
ax.set_yticklabels([f"{v * 1e9:.0f}" for v in price_ticks], fontsize=7.5, color=CLR_TEXT)
ax.set_xticks(time_ticks)
ax.set_xticklabels(time_labels, fontsize=8.6, color=CLR_TEXT)
for lab, txt in zip(ax.get_xticklabels(), time_labels):
    if txt in ("Apr", "May", "Jun"):
        lab.set_fontweight("bold")
ax.tick_params(axis="x", length=0, pad=6)
ax.tick_params(axis="y", length=4.3, width=1, color=CLR_AXIS, pad=2)
ax.yaxis.grid(True, color=CLR_GRID, lw=0.85, zorder=0.5)
ax.xaxis.grid(True, color=CLR_GRID_V, lw=0.75, zorder=0.5)
ax.set_axisbelow(True)


def plot_pairs(pairs, color, lw, zorder=6, **kw):
    arr = np.array(pairs).T
    ax.plot(arr[0], arr[1], color=color, lw=lw, zorder=zorder, solid_joinstyle="miter", **kw)


# ── background zones ─────────────────────────────────────────────────────────
ghost = np.array(ghost_candles).T
ax.vlines(ghost[0], ghost[1], ghost[2], color="#23241f", lw=1.1, zorder=1)

ax.add_patch(Rectangle((-2.95, 121.43), 37.44, 31.77, fc="#ffffff", alpha=0.055, ec="none", zorder=1.1))
ax.add_patch(Polygon([(-2.92, 139.0), (68.76, 168.4), (68.76, 121.43), (-2.92, 121.43)],
                     fc="#2803c3", alpha=0.15, ec="none", zorder=1.2))
ax.add_patch(Rectangle((34.97, 121.43), 7.0, 27.87, fc="#172432", alpha=0.85, ec="none", zorder=1.3))
ax.plot([34.97, 34.97], [121.43, 149.3], color="#e010d0", lw=1.2, zorder=3)
ax.plot([41.97, 41.97], [121.43, 149.3], color="#e010d0", lw=1.2, zorder=3)
ax.plot([34.97, 41.97], [149.3, 149.3], color="#ff00ff", lw=2.0, zorder=3)

red = np.array(ghost_red).T
ax.vlines(red[0], red[1], red[2], color="#44161f", lw=2.0, zorder=2)

for name, (xs, ys, col, lw) in lines_thin.items():
    ax.plot(xs, ys, color=col, lw=lw, zorder=2.2 if name != "magenta_a" else 5)

# channels are see through, so the lines under them change colour
ax.fill_between(channel_days, channel_mid, channel_top, color="#0000ff", alpha=0.31, lw=0, zorder=2.5)
ax.fill_between(channel_days, channel_low, channel_mid, color="#ff0000", alpha=0.30, lw=0, zorder=2.5)
ax.plot(channel_days, channel_top, color="#0000f0", lw=1.2, zorder=2.6)
ax.plot(channel_days, channel_mid, color="#ff0000", lw=1.2, zorder=2.6)
ax.plot(channel_days, channel_low, color="#0000f0", lw=1.2, zorder=2.6)
ax.fill_between(mini_days, mini_mid, mini_top, color="#0000ff", alpha=0.31, lw=0, zorder=2.5)
ax.fill_between(mini_days, mini_low, mini_mid, color="#ff0040", alpha=0.32, lw=0, zorder=2.5)
ax.plot(mini_days, mini_top, color="#0000f0", lw=1.5, zorder=2.6)
ax.plot(mini_days, mini_mid, color="#ff0000", lw=1.2, zorder=2.6)
ax.plot(mini_days, mini_low, color="#0000f0", lw=1.5, zorder=2.6)
ax.add_patch(Rectangle((-2.92, 136.7), 1.08, 2.8, fc="none", ec="#a0104a", lw=2.2, zorder=2.7))

# small boxes
ax.add_patch(Rectangle((54.51, 129.75), 5.69, 7.39, fc="none", ec="#139aa6", lw=3, zorder=3))
ax.add_patch(Rectangle((21.78, 131.17), 2.74, 4.73, fc="#524e66", ec="#a9a7b5", lw=2.8, zorder=3))
ax.text(56.72, 133.66, "Hope.", color="white", style="italic", fontsize=8.6, ha="center", va="center", zorder=8)

# ── indicators ───────────────────────────────────────────────────────────────
plot_pairs(bb_upper, "#2f6f86", 0.8, zorder=3.2)
plot_pairs(bb_lower, "#4a7070", 0.8, zorder=3.2)
plot_pairs(ma_purple, "#8a14b0", 1.0, zorder=3.3)
plot_pairs(ma_rising, "#ff1a66", 1.8, zorder=3.4)
plot_pairs(ma_slow_a, "#c0189a", 2.2, zorder=3.4)
plot_pairs(ma_slow_b, "#ff1a5e", 1.8, zorder=3.4)
plot_pairs(zigzag_left, "#e8c8c8", 0.8, zorder=3.5)
plot_pairs(zigzag_right, "#e8e4e4", 0.8, zorder=3.5)
plot_pairs(arc, "#bcb8c4", 0.8, zorder=3.1)
plot_pairs(bb_tail, "#d8d8e0", 0.8, zorder=3.6)

# bar patterns and the close
plot_pairs(cyan_near, "#00ffff", 1.4, zorder=6)
plot_pairs(cyan_far, "#00ffff", 1.4, zorder=6)
plot_pairs(magenta_near, "#ff00ff", 1.5, zorder=6.1)
plot_pairs(magenta_far, "#ff00ff", 1.5, zorder=6.1)
plot_pairs(gold_near, "#c08a08", 1.3, zorder=6.3)
plot_pairs(gold_far, "#c08a08", 1.3, zorder=6.3)
plot_pairs(white_close, "#f2f2f2", 2.2, zorder=6.2)

# last price
ax.axhline(last_price, color="white", lw=0.9, ls=(0, (1.6, 1.4)), zorder=6.5)

# date range tool
ax.add_patch(Rectangle((0.92, 139.7), 0.47, 14.4, fc="#d4d4d8", ec="#e02020", lw=1, alpha=0.8, zorder=6.6))
ax.text(0.12, 152.95, "0.67495583447254447", color="#0000ff", fontsize=7.5, ha="left", va="center", zorder=7)
ax.add_patch(FancyBboxPatch((0.10, 137.1), 2.15, 1.85, boxstyle="round,pad=0,rounding_size=0.12",
                            mutation_aspect=1.0, fc="#5b7fc7", ec="none", alpha=0.9, zorder=7))
ax.text(1.18, 138.0, "6 bars, 12h", color="white", fontsize=9.2, ha="center", va="center", zorder=7.1)


# ── callouts and icons, sized in pixels around a chart position ──────────────
def to_px(day, price):
    return ax.transData.transform((day, price))


def callout(day, price, w, h, tip, rel1, rel2, edge, text, lw=2.4, fs=10, fill="#0a0d14"):
    cx, cy = to_px(day, price)
    tx, ty = to_px(*tip)
    identity = IdentityTransform()
    fig.add_artist(FancyBboxPatch((cx - w / 2, cy - h / 2), w, h, boxstyle="round,pad=0,rounding_size=7",
                                  transform=identity, fc=fill, ec=edge, lw=lw, zorder=10))
    a = (cx + rel1[0], cy - rel1[1])
    b = (cx + rel2[0], cy - rel2[1])
    fig.add_artist(Polygon([a, (tx, ty), b], transform=identity, fc=fill, ec="none", zorder=10.1))
    fig.add_artist(plt.Line2D([a[0], tx, b[0]], [a[1], ty, b[1]], transform=identity, color=edge, lw=lw * 0.8,
                              zorder=10.2))
    fig.text(cx / W, cy / H, text, color="white", fontsize=fs, ha="center", va="center", zorder=10.3)


def green_arrow(day, price, shaft="#00ff1e"):
    x, y = to_px(day, price)
    body = [(0, 0), (13, 16), (4.5, 16), (4.5, 38), (-4.5, 38), (-4.5, 16), (-13, 16)]
    flag = [(4.5, 38), (4.5, 47), (-20, 47), (-15, 38)]
    fig.add_artist(Polygon([(x + a, y + b) for a, b in body], transform=IdentityTransform(), fc=shaft, ec="none",
                           zorder=9))
    fig.add_artist(Polygon([(x + a, y + b) for a, b in flag], transform=IdentityTransform(), fc="#00ff1e", ec="none",
                           zorder=9))


GREEN = "#00e600"
callout(-0.78, 185.4, 57, 35, (0.47, 179.5), (20, 15.5), (28, 8.5), GREEN, "Hope.")
callout(10.28, 187.3, 57, 35, (9.89, 184.3), (-8, 17), (9, 17), GREEN, "Hope.")
callout(21.38, 187.1, 57, 35, (21.56, 184.1), (-10, 17), (5, 17), GREEN, "Hope.")
callout(29.63, 192.45, 57, 33, (30.35, 185.8), (-7, 16), (16, 16), GREEN, "Hope.")
callout(46.44, 214.8, 109, 35, (41.94, 210.95), (-54, 8), (-45, 17.5), "#00e5e5", "We are here...", fs=9.3)
callout(43.62, 183.0, 187, 34, (40.18, 182.3), (-93, -9), (-93, 6), "#10d8e8", "Break line and i short hard.",
        lw=1.5, fs=9.7, fill="#000000")

green_arrow(-2.0, 141.45)
green_arrow(2.24, 175.2)
green_arrow(9.73, 178.6)
green_arrow(21.9, 178.4, shaft="#00b050")

ax.text(34.47, 190.0, "EXIT CHANNEL.", color="white", family="Liberation Serif", style="italic", weight="bold",
        fontsize=11.3, ha="left", va="center", zorder=9)
ax.text(49.7, 179.0, "HOPE is double edge sword..", color="white", style="italic", fontsize=8.6, ha="left",
        va="center", zorder=9)

# question mark, white arrow and the brush at the bottom
qx, qy = to_px(38.63, 144.57)
fig.add_artist(Circle((qx, qy), 15.5, transform=IdentityTransform(), fc="white", ec="none", zorder=9))
fig.text(qx / W, qy / H, "?", color="#101820", fontsize=15, weight="bold", ha="center", va="center", zorder=9.1)
ax.annotate("", xy=(38.74, 137.9), xytext=(38.53, 135.7), zorder=9,
            arrowprops=dict(facecolor="white", edgecolor="white", width=5, headwidth=19, headlength=11))
ax.plot([13.68, 14.03], [125.4, 122.85], color="black", lw=6.5, zorder=9, solid_capstyle="round")
bx, by = to_px(14.22, 121.7)
ax.add_patch(Circle((bx, by), 14, transform=IdentityTransform(), fc="black", ec="none", zorder=9, clip_on=True,
                    clip_path=ax.patch))

# ── last price badges ────────────────────────────────────────────────────────
fig.add_artist(Rectangle((2731, H - 542), 87, 17, transform=IdentityTransform(), fc="#efefef", ec="none", zorder=11))
fig.add_artist(Rectangle((2778, H - 559), 40, 17, transform=IdentityTransform(), fc="#efefef", ec="none", zorder=11))
fig.text(2740 / W, 1 - 533.5 / H, "209992507314", color="#333333", fontsize=7.5, va="center", zorder=12)
fig.text(2813 / W, 1 - 550.5 / H, "43:58", color="#333333", fontsize=7.5, ha="right", va="center", zorder=12)

# ── legend inside the chart ──────────────────────────────────────────────────
fig.text(16 / W, 1 - 61 / H, "Crypto Total Market Cap, $ (CALCULATED BY TRADINGVIEW), 120, CRYPTOCAP", color=CLR_TEXT,
         fontsize=8.5, weight="bold", va="center", zorder=12)
fig.text(16 / W, 1 - 78 / H, "Compression MA [SharkCharts.live] (1.25, 1.25, 100, 0.4, close, 100, 400)",
         color=CLR_TEXT, fontsize=8.85, va="center", zorder=12)
fig.text(16 / W, 1 - 95 / H, "BB (20, close, 2)", color=CLR_TEXT, fontsize=8.85, va="center", zorder=12)

# ── header and footer on white ───────────────────────────────────────────────
fig.text(6 / W, 1 - 13 / H, "Glitch420", color="#2fa8e8", fontsize=9, va="center")
fig.text(65 / W, 1 - 13 / H, "published on TradingView.com, May 12, 2019 09:16:03 UTC", color="#131722", fontsize=9,
         va="center")

header = [
    (6, "CRYPTOCAP:TOTAL, 120", "#131722", "bold", 7.9),
    (147, "209992794243", "#131722", "normal", 9),
    (248, "+5007790080 (+2.44%)", "#131722", "normal", 8.6),
    (382, "O:", "#131722", "bold", 9),
    (396, "212325182602", "#0aa014", "normal", 9),
    (484, "H:", "#131722", "bold", 9),
    (498, "213677963657", "#0aa014", "normal", 9),
    (586, "L:", "#131722", "bold", 9),
    (598, "204678840594", "#0aa014", "normal", 9),
    (685, "C:", "#131722", "bold", 9),
    (698, "209992507314", "#0aa014", "normal", 9),
]
for xpos, label, col, weight, size in header:
    fig.text(xpos / W, 1 - 29 / H, label, color=col, fontsize=size, weight=weight, va="center")
fig.add_artist(Polygon([(234, H - 34), (245, H - 34), (239.5, H - 24)], transform=IdentityTransform(), fc="#0a9a14",
                       ec="none"))

fig.text(6 / W, 1 - 1576 / H, "Created with", color="#131722", fontsize=9, va="center")
fig.text(106 / W, 1 - 1576 / H, "TradingView", color="#2fa8e8", fontsize=9, va="center")
fig.add_artist(plt.Line2D([83, 89, 94, 98, 103], [H - 1580, H - 1572, H - 1578, H - 1571, H - 1580],
                          transform=IdentityTransform(), color="#2fa8e8", lw=3))

fig.savefig("out.png", dpi=100)
